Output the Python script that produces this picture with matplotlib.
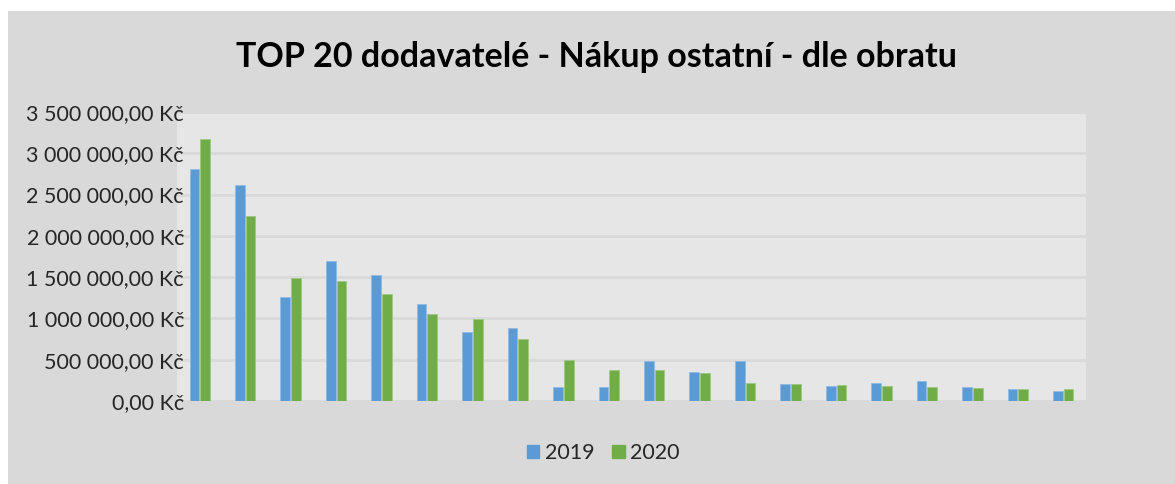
import matplotlib.pyplot as plt
import matplotlib.patches as mpatches
from matplotlib.ticker import FuncFormatter
import numpy as np

# values (Kč)
suppliers = [f"D{i}" for i in range(1, 21)]
values_2019 = [2810000, 2620000, 1260000, 1700000, 1520000, 1180000, 830000, 890000,
               165000, 170000, 480000, 355000, 480000, 210000, 180000, 220000,
               240000, 165000, 140000, 120000]
values_2020 = [3170000, 2240000, 1490000, 1450000, 1300000, 1050000, 990000, 750000,
               500000, 375000, 370000, 335000, 220000, 200000, 190000, 180000,
               165000, 155000, 150000, 140000]
years = ["2019", "2020"]
colors = ["#5b9bd5", "#70ad47"]

plt.rcParams['font.family'] = ['Lato', 'DejaVu Sans']


def kc_format(v, pos):
    s = f"{v:,.2f}".replace(",", " ").replace(".", ",")
    return s + " Kč"


fig = plt.figure(figsize=(11.75, 4.84), dpi=100, facecolor="white")
# grey chart area (white strip at top and left)
fig.patches.append(mpatches.Rectangle((8 / 1175, 0), 1 - 8 / 1175, 1 - 11 / 484,
                                      transform=fig.transFigure, facecolor="#d9d9d9",
                                      edgecolor="none", zorder=-5))

ax = fig.add_axes([177 / 1175, 1 - 401 / 484, (1086 - 177) / 1175, (401 - 112) / 484])
ax.set_zorder(2)
ax.set_facecolor("#e6e6e6")

x = np.arange(len(suppliers))
w = 0.213
gap = 0.022
ax.bar(x - (w + gap) / 2, values_2019, width=w, color=colors[0], edgecolor="#8fbbe3",
       linewidth=0.6, zorder=3)
ax.bar(x + (w + gap) / 2, values_2020, width=w, color=colors[1], edgecolor="#9cc880",
       linewidth=0.6, zorder=3)

ax.set_xlim(-0.5, len(suppliers) - 0.5)
ax.set_ylim(0, 3500000)
ax.set_yticks(np.arange(0, 3500001, 500000))
ax.yaxis.set_major_formatter(FuncFormatter(kc_format))
ax.set_xticks([])
ax.grid(axis="y", color="#d9d9d9", linewidth=2, zorder=0)
for s in ax.spines.values():
    s.set_visible(False)
ax.tick_params(axis="y", length=0, labelsize=15.5, colors="#262626", pad=-5)

fig.text(597 / 1175, 1 - 57 / 484, "TOP 20 dodavatelé - Nákup ostatní - dle obratu",
         ha="center", va="center", fontsize=24.5, fontweight="bold", color="black")

handles = [mpatches.Patch(color=c, label=y) for c, y in zip(colors, years)]
fig.legend(handles=handles, loc="center", bbox_to_anchor=(603 / 1175, 1 - 453 / 484),
           ncol=2, frameon=False, fontsize=15.5, handlelength=0.6, handleheight=0.6,
           handletextpad=0.25, columnspacing=0.8, labelcolor="#262626")

fig.savefig("out.png", dpi=100, facecolor=fig.get_facecolor())
